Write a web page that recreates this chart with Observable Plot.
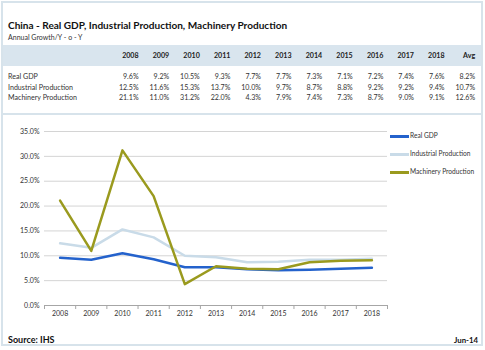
<!DOCTYPE html>
<html><head><meta charset="utf-8">
<script src="https://cdn.jsdelivr.net/npm/d3@7"></script>
<script src="https://cdn.jsdelivr.net/npm/@observablehq/plot@0.6"></script>
<style>
body{margin:0;background:#fff;font-family:Lato,"Open Sans",sans-serif;color:#222}
#wrap{position:relative;width:485px;height:350px;overflow:hidden;background:#fff}
.frame{position:absolute;left:1px;top:1px;width:478px;height:341px;border:2px solid #d7e3eb}
.sep{position:absolute;left:1px;top:113px;width:482px;height:2px;background:#d7e3eb}
.band{position:absolute;left:3px;top:45px;width:478px;height:21px;background:#d9e5ee}
.title{position:absolute;left:8px;top:19px;font-size:10.05px;font-weight:bold;color:#111;white-space:nowrap}
.sub{position:absolute;left:8px;top:33px;font-size:7px;color:#333;white-space:nowrap}
table{position:absolute;left:8px;border-collapse:collapse;font-size:7.1px;color:#333}
td{padding:0;text-align:right;white-space:nowrap;height:10.5px;line-height:10.5px}
td.lab{text-align:left;width:100px}
td.num{width:30.6px}
#head{top:49px;font-weight:bold;color:#222}
#head td{height:13px;line-height:13px}
#body{top:72px}
#chart{position:absolute;left:0;top:115px}
.leg{position:absolute;left:390px;font-size:6.6px;color:#333;white-space:nowrap}
.leg i{display:inline-block;width:19px;height:2.5px;vertical-align:middle;margin-right:1px}
.src{position:absolute;left:8px;top:334px;font-size:9px;font-weight:bold;color:#111}
.date{position:absolute;right:7px;top:335px;font-size:7.8px;font-weight:bold;color:#111}
</style></head>
<body>
<div id="wrap">
  <div class="frame"></div>
  <div class="band"></div>
  <div class="sep"></div>
  <div class="title">China - Real GDP, Industrial Production, Machinery Production</div>
  <div class="sub">Annual Growth/Y - o - Y</div>
  <table id="head"></table>
  <table id="body"></table>
  <div id="chart"></div>
  <div id="legend"></div>
  <div class="src">Source: IHS</div>
  <div class="date">Jun-14</div>
</div>
<script>
const years = [2008, 2009, 2010, 2011, 2012, 2013, 2014, 2015, 2016, 2017, 2018];
const realGDP = [9.6, 9.2, 10.5, 9.3, 7.7, 7.7, 7.3, 7.1, 7.2, 7.4, 7.6];
const industrial = [12.5, 11.6, 15.3, 13.7, 10.0, 9.7, 8.7, 8.8, 9.2, 9.2, 9.4];
const machinery = [21.1, 11.0, 31.2, 22.0, 4.3, 7.9, 7.4, 7.3, 8.7, 9.0, 9.1];
const averages = [8.2, 10.7, 12.6];
const seriesNames = ["Real GDP", "Industrial Production", "Machinery Production"];
const colors = ["#2462cc", "#c9dbe8", "#9a9a1e"];
const yTicks = [0, 5, 10, 15, 20, 25, 30, 35];
const avgLabel = "Avg";

const seriesValues = [realGDP, industrial, machinery];
const fmt = v => v.toFixed(1) + "%";

// table
const head = document.getElementById("head");
head.innerHTML = "<tr><td class='lab'></td>" + years.map(y => `<td class='num'>${y}</td>`).join("") + `<td class='num'>${avgLabel}</td></tr>`;
const body = document.getElementById("body");
body.innerHTML = seriesNames.map((s, i) =>
  `<tr><td class='lab'>${s}</td>` + seriesValues[i].map(v => `<td class='num'>${fmt(v)}</td>`).join("") + `<td class='num'>${fmt(averages[i])}</td></tr>`
).join("");

// legend
const legend = document.getElementById("legend");
legend.innerHTML = seriesNames.map((s, i) =>
  `<div class='leg' style='top:${131 + i * 18}px'><i style='background:${colors[i]}'></i>${s}</div>`
).join("");

// chart
const data = seriesNames.flatMap((s, i) => years.map((y, j) => ({series: s, year: y, value: seriesValues[i][j]})));
const bounds = d3.range(years.length + 1).map(i => years[0] - 0.5 + i);

const chart = Plot.plot({
  width: 390, height: 210,
  marginLeft: 44, marginRight: 3, marginTop: 16, marginBottom: 20,
  x: {domain: [years[0] - 0.5, years[years.length - 1] + 0.5]},
  y: {domain: [0, 35]},
  color: {domain: seriesNames, range: colors},
  style: {fontFamily: "Lato, 'Open Sans', sans-serif", fontSize: "7px", color: "#333", background: "transparent"},
  marks: [
    Plot.gridY(yTicks.filter(t => t > 0), {stroke: "#d4d4d4", strokeOpacity: 1, strokeWidth: 1}),
    Plot.axisY(yTicks, {tickSize: 0, tickPadding: 5, tickFormat: fmt, label: null}),
    Plot.ruleY([0], {stroke: "#a6a6a6"}),
    Plot.axisX(bounds, {tickSize: 4, tickFormat: () => "", label: null, stroke: "#a6a6a6"}),
    Plot.axisX(years, {tickSize: 0, tickPadding: 6, tickFormat: d => String(d), label: null}),
    Plot.line(data, {x: "year", y: "value", z: "series", stroke: "series", strokeWidth: 2.5})
  ]
});
document.getElementById("chart").appendChild(chart);
</script>
</body></html>
